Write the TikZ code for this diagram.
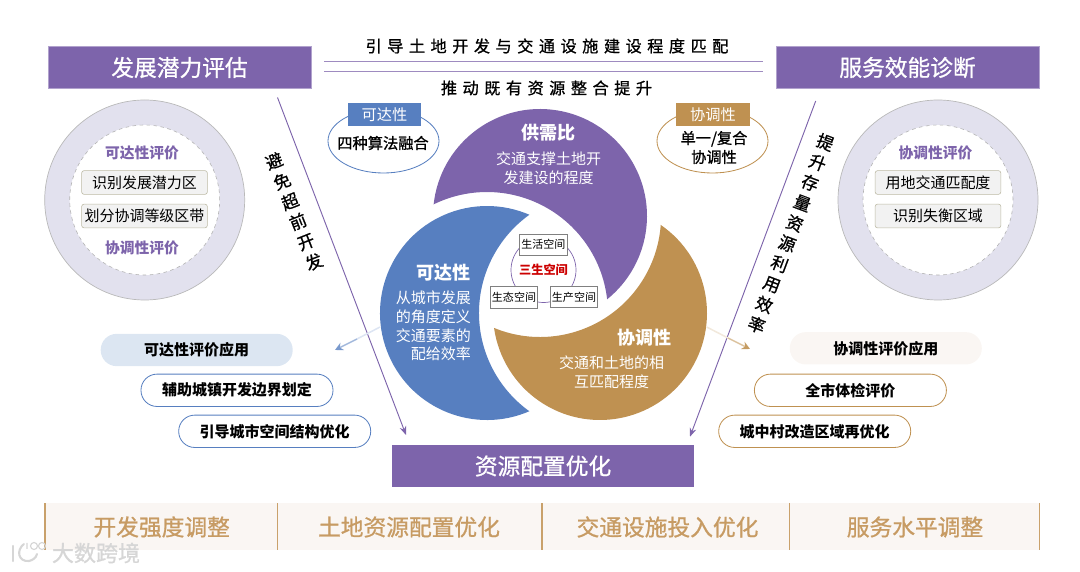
\documentclass[tikz,border=0pt]{standalone}
\usepackage{fontspec}
\setmainfont{Noto Sans CJK SC}
\newfontfamily\medfont[FakeBold=0.9]{Noto Sans CJK SC}
\usetikzlibrary{arrows.meta,shapes.geometric}

\definecolor{mainpurple}{HTML}{7D64AB}
\definecolor{mainblue}{HTML}{577FC0}
\definecolor{maingold}{HTML}{BF9151}
\definecolor{ringfill}{HTML}{E2E1EE}
\definecolor{bandfill}{HTML}{FAF6F3}
\definecolor{bandtext}{HTML}{C79B63}
\definecolor{palepill}{HTML}{DCE6F2}
\definecolor{markgray}{HTML}{D6D6D6}

% colour, centre, outer arc angles, inner arc angles
\newcommand{\crescent}[6]{%
    \fill[#1] (#2) ++(#3:107) arc [start angle=#3, end angle=#4, radius=107]
        arc [start angle=#5, end angle=#6, radius=121] -- cycle;}

\begin{document}
\begin{tikzpicture}[
            x=0.03cm, y=-0.03cm,
            header/.style={rectangle, fill=mainpurple, draw=mainpurple!60, line width=0.5pt,
                                        minimum width=7.89cm, minimum height=1.26cm, text=white,
                                        font=\fontsize{19.4}{23}\selectfont\medfont},
            topline/.style={font=\fontsize{13.8}{17}\selectfont\medfont\addfontfeature{LetterSpace=34}},
            ring/.style={circle, fill=ringfill, draw=gray!55, line width=0.6pt,
                                        minimum size=6cm, inner sep=0pt},
            hole/.style={circle, fill=white, draw=gray!60, dashed, line width=0.5pt,
                                        minimum size=4.5cm, inner sep=0pt},
            ringtitle/.style={text=mainpurple, font=\fontsize{12.6}{15}\selectfont\bfseries},
            ringbox/.style={rectangle, rounded corners=2pt, fill=black!5, draw=black!20!bandfill!85!olive,
                                        line width=0.5pt, minimum width=3.77cm, minimum height=0.71cm,
                                        inner sep=0pt, font=\fontsize{12.8}{15}\selectfont},
            tag/.style={rectangle, minimum width=2.2cm, minimum height=0.68cm, text=white,
                                        inner sep=0pt, font=\fontsize{13}{16}\selectfont},
            oval/.style={ellipse, fill=white, line width=0.7pt, minimum width=3.33cm,
                                        minimum height=1.92cm, inner sep=0pt},
            ovaltext/.style={align=center, font=\fontsize{13}{16.2}\selectfont\medfont},
            title/.style={text=white, font=\fontsize{15.4}{19}\selectfont\bfseries},
            body/.style={text=white, font=\fontsize{12.8}{16}\selectfont},
            spacebox/.style={rectangle, fill=white, draw=gray, line width=0.7pt, inner sep=0pt,
                                        minimum width=1.39cm, minimum height=0.64cm,
                                        font=\fontsize{9.4}{11}\selectfont},
            pill/.style={rectangle, rounded corners=0.48cm, minimum width=5.76cm, minimum height=0.97cm,
                                        inner sep=0pt, font=\fontsize{12.8}{15}\selectfont\bfseries},
            slogan/.style={align=center, font=\fontsize{14.5}{18.5}\selectfont\medfont},
            flow/.style={-{Stealth[length=2.6mm,width=2mm]}, mainpurple, line width=0.8pt},
            bandtitle/.style={text=bandtext, font=\fontsize{19.4}{23}\selectfont\medfont},
            divider/.style={maingold!85, line width=0.9pt}
        ]
        \useasboundingbox (0,0) rectangle (1080,572);

        % Headers
        \node[header] (potential) at (179.5,67.5) {发展潜力评估};
        \node[header] (service) at (907.5,67.5) {服务效能诊断};
        \node[topline] (match) at (547,46) {引导土地开发与交通设施建设程度匹配};
        \node[topline] (merge) at (546.5,88) {推动既有资源整合提升};
        \coordinate (ruleleft) at (324,61.7);
        \coordinate (ruleright) at (763,61.7);
        \draw[mainpurple!75, line width=1.1pt] (ruleleft) -- (ruleright);
        \draw[mainpurple!75, line width=1.1pt] ([yshift=-0.3cm]ruleleft) -- ([yshift=-0.3cm]ruleright);

        % Left ring
        \node[ring] (leftring) at (144.7,200) {};
        \node[hole] (lefthole) at (144.7,200) {};
        \node[ringtitle] (leftaccess) at (142,152.5) {可达性评价};
        \node[ringbox] (leftzone) at (144.5,182.5) {识别发展潜力区};
        \node[ringbox] (leftband) at (144.5,216) {划分协调等级区带};
        \node[ringtitle] (leftcoord) at (142,248) {协调性评价};

        % Right ring
        \node[ring] (rightring) at (938,200) {};
        \node[hole] (righthole) at (938,200) {};
        \node[ringtitle] (rightcoord) at (935.5,152.5) {协调性评价};
        \node[ringbox] (rightmatch) at (938,182.5) {用地交通匹配度};
        \node[ringbox] (rightzone) at (938,216) {识别失衡区域};

        % Ovals
        \node[oval, draw=mainblue] (algooval) at (383.5,141) {};
        \node[tag, fill=mainblue] (algotag) at (384.5,114.3) {可达性};
        \node[ovaltext] (algotext) at (383,143) {四种算法融合};
        \node[oval, draw=maingold] (coordoval) at (712.5,141) {};
        \node[tag, fill=maingold] (coordtag) at (713,114.3) {协调性};
        \node[ovaltext] (coordtext) at (714,147.5) {单一/复合\\协调性};

        % Crescents
        \coordinate (purplec) at (540,216);
        \coordinate (bluec) at (487,313);
        \coordinate (goldc) at (600,313);
        \crescent{mainpurple}{purplec}{186.26}{411.14}{-6.5}{-116.2}
        \crescent{mainblue}{bluec}{66.67}{293.33}{234.3}{125.7}
        \crescent{maingold}{goldc}{304.54}{531.98}{112.35}{4.2}

        \node[title] (supply) at (548.7,133) {供需比};
        \node[body, align=center] (supplytext) at (548.7,168.3) {交通支撑土地开\\发建设的程度};
        \node[title, anchor=east, inner sep=0pt] (access) at (471,272.7) {可达性};
        \node[body, align=right, anchor=east, inner sep=0pt] (accesstext) at (471,326) {从城市发展\\的角度定义\\交通要素的\\配给效率};
        \node[title, anchor=east, inner sep=0pt] (coord) at (671.7,337.7) {协调性};
        \node[body, align=center] (coordbody) at (611.7,372.3) {交通和土地的相\\互匹配程度};

        % Three spaces
        \node[circle, draw=mainpurple, line width=0.6pt, minimum size=1.95cm, inner sep=0pt] (hub) at (543.5,270) {};
        \node[spacebox, minimum width=1.43cm] (life) at (543.3,244.7) {生活空间};
        \node[spacebox] (eco) at (514,297.5) {生态空间};
        \node[spacebox] (prod) at (574,297) {生产空间};
        \node[text=red!80!black, font=\fontsize{10.4}{12}\selectfont\bfseries] (hubtext) at (543.5,270) {三生空间};

        % Bottom box
        \node[header, minimum width=9.06cm, minimum height=1.24cm, draw=none] (resource) at (543,466) {资源配置优化};

        % Long arrows
        \coordinate (leftstart) at (277.5,97.5);
        \coordinate (leftend) at (406,435);
        \coordinate (rightstart) at (815.7,101);
        \coordinate (rightend) at (690,436.7);
        \draw[flow] (leftstart) -- (leftend);
        \draw[flow] (rightstart) -- (rightend);
        \node[slogan, rotate=21.6] (avoid) at (294,211.5) {避\\免\\超\\前\\开\\发};
        \node[slogan, rotate=-20.6] (lift) at (791,233.5) {提\\升\\存\\量\\资\\源\\利\\用\\效\\率};

        % Fading arrows
        \coordinate (bluefrom) at (380,327);
        \coordinate (bluemid) at (357,339);
        \coordinate (blueto) at (335,350);
        \coordinate (goldfrom) at (706.7,327);
        \coordinate (goldmid) at (728,338);
        \coordinate (goldto) at (750,349);
        \draw[mainblue!20, line width=1.3pt] (bluefrom) -- (bluemid);
        \draw[-{Stealth[length=2.4mm,width=2.4mm,color=mainblue!80]}, mainblue!55, line width=1.3pt] (bluemid) -- (blueto);
        \draw[maingold!20, line width=1.3pt] (goldfrom) -- (goldmid);
        \draw[-{Stealth[length=2.4mm,width=2.4mm,color=maingold!90]}, maingold!55, line width=1.3pt] (goldmid) -- (goldto);

        % Applications
        \node[pill, fill=palepill] (accessapp) at (196.7,350) {可达性评价应用};
        \node[pill, draw=mainblue, fill=white, line width=0.7pt] (boundary) at (237,390.3) {辅助城镇开发边界划定};
        \node[pill, draw=mainblue, fill=white, line width=0.7pt] (structure) at (274.7,431.3) {引导城市空间结构优化};
        \node[pill, fill=bandfill] (coordapp) at (885.8,348.3) {协调性评价应用};
        \node[pill, draw=maingold, fill=white, line width=0.7pt] (citycheck) at (850.4,390.3) {全市体检评价};
        \node[pill, draw=maingold, fill=white, line width=0.7pt] (village) at (814.7,431.3) {城中村改造区域再优化};

        % Bottom band
        \coordinate (bandtl) at (45,503.3);
        \coordinate (bandbr) at (1039.3,550);
        \fill[bandfill] (bandtl) rectangle (bandbr);
        \foreach \xpos in {45,277.7,542,789.7,1039.3} {
            \draw[divider] (\xpos,503.3) -- (\xpos,550);
        }
        \node[bandtitle] (intensity) at (161.7,527) {开发强度调整};
        \node[bandtitle] (landres) at (409,527) {土地资源配置优化};
        \node[bandtitle] (invest) at (667.5,527) {交通设施投入优化};
        \node[bandtitle] (level) at (915,527) {服务水平调整};

        % Watermark
        \node[text=markgray, font=\fontsize{18.8}{22}\selectfont\medfont] (mark) at (96,553) {大数跨境};
        \draw[markgray, line width=1.8pt, line cap=round] (13,546) -- (13,561);
        \draw[markgray, line width=1.8pt, line cap=round] (24,544) .. controls (16,550) and (18,562) .. (29,561) .. controls (33,560) and (36,558) .. (37,554);
        \draw[markgray, line width=1pt] (27,543) -- (27,549) (34,546) circle [radius=3.5] (42,546) circle [radius=3.5];
\end{tikzpicture}
\end{document}
